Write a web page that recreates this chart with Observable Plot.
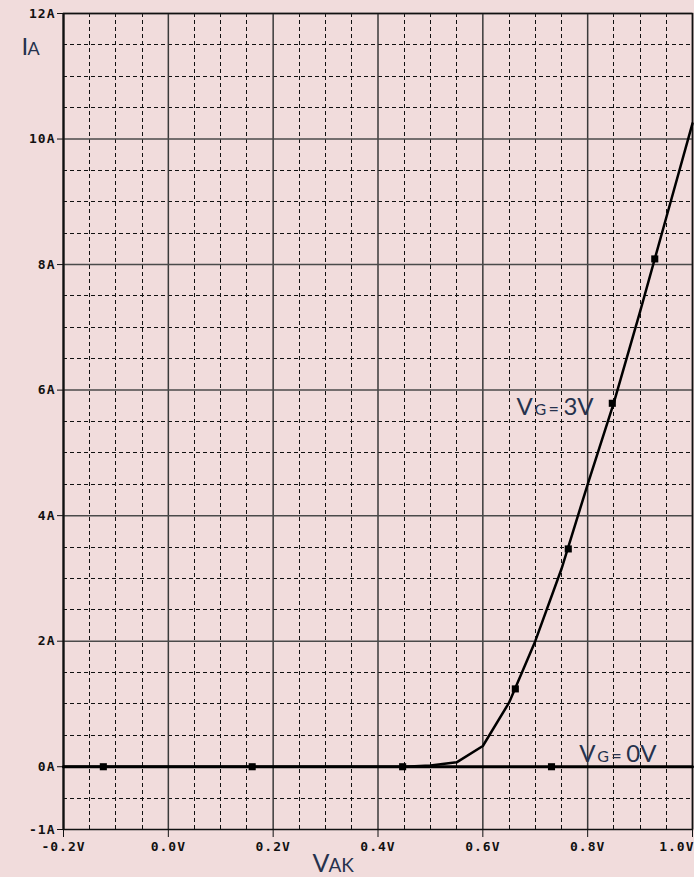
<!DOCTYPE html>
<html>
<head>
<meta charset="utf-8">
<script src="https://cdn.jsdelivr.net/npm/d3@7"></script>
<script src="https://cdn.jsdelivr.net/npm/@observablehq/plot@0.6"></script>
<style>
  html, body { margin: 0; padding: 0; background: #f1dcdc; }
  #chart svg { display: block; }
  #chart [aria-label$="tick label"] text, #chart .tick-text text { letter-spacing: 1px; }
</style>
</head>
<body>
<div id="chart"></div>
<script>
// Anode voltage sweep (V) and anode current (A) for a gate drive of 3 V
const vakGate3 = [-0.2, 0.45, 0.50, 0.55, 0.60, 0.65, 0.70, 0.75, 0.80, 0.85, 0.90, 0.95, 1.00];
const iaGate3  = [0.0,  0.0,  0.02, 0.07, 0.33, 1.02, 2.00, 3.15, 4.50, 5.80, 7.25, 8.75, 10.25];

// Gate drive of 0 V: the device stays off across the sweep
const vakGate0 = [-0.2, 1.0];
const iaGate0  = [0.0, 0.0];

// Trace markers
const markVGate3 = [0.662, 0.763, 0.847, 0.928];
const markIGate3 = [1.24, 3.47, 5.79, 8.09];
const markVGate0 = [-0.124, 0.160, 0.447, 0.731];
const markIGate0 = [0, 0, 0, 0];

// Axis ticks
const xTicks = [-0.2, 0.0, 0.2, 0.4, 0.6, 0.8, 1.0];
const xTickLabels = ["-0.2V", "0.0V", "0.2V", "0.4V", "0.6V", "0.8V", "1.0V"];
const yTicks = [12, 10, 8, 6, 4, 2, 0, -1];
const yTickLabels = ["12A", "10A", "8A", "6A", "4A", "2A", "0A", "-1A"];

// Trace labels: anchor (VAK, IA) at the start of the baseline
const traceLabels = [
  {v: 0.664, i: 5.60, value: "3V"},
  {v: 0.784, i: 0.08, value: "0V"}
];

const gate3 = vakGate3.map((v, k) => ({v, i: iaGate3[k]}));
const gate0 = vakGate0.map((v, k) => ({v, i: iaGate0[k]}));
const marks3 = markVGate3.map((v, k) => ({v, i: markIGate3[k]}));
const marks0 = markVGate0.map((v, k) => ({v, i: markIGate0[k]}));
const xLabelRows = xTicks.map((v, k) => ({v, label: xTickLabels[k]}));

// Grid: solid every 0.2 V / 2 A, dashed every 0.05 V / 0.5 A
const majorX = xTicks;
const majorY = [12, 10, 8, 6, 4, 2, 0];
const minorX = d3.range(-0.2, 1.0001, 0.05).map(d => +d.toFixed(2))
  .filter(d => !majorX.some(m => Math.abs(m - d) < 1e-6));
const minorY = d3.range(-1, 12.0001, 0.5)
  .filter(d => !yTicks.some(m => Math.abs(m - d) < 1e-6));

const mono = "'DejaVu Sans Mono', 'Liberation Mono', monospace";
const sans = "Lato, 'Noto Sans', sans-serif";
const ink = "#26324d";

// One piece of a mixed-size label, with its baseline at the anchor
function piece(data, text, size, dx, opts = {}) {
  const {dyBase = 0, ...rest} = opts;
  return Plot.text(data, {
    ...rest,
    text: () => text,
    fontSize: size,
    fontFamily: sans,
    fill: ink,
    textAnchor: "start",
    lineAnchor: "middle",
    dx,
    dy: dyBase - 0.32 * size
  });
}

const labelPos = {x: "v", y: "i"};
const tickFont = {fontFamily: mono, fontWeight: "bold", fontSize: 13, fill: "#111"};

const chart = Plot.plot({
  width: 694,
  height: 877,
  marginLeft: 63,
  marginRight: 2,
  marginTop: 13,
  marginBottom: 48,
  style: {background: "transparent", overflow: "visible", color: "#111"},
  x: {domain: [-0.2, 1.0]},
  y: {domain: [-1, 12]},
  marks: [
    Plot.ruleX(minorX, {stroke: "#111", strokeWidth: 1, strokeDasharray: "4,3", shapeRendering: "crispEdges"}),
    Plot.ruleY(minorY, {stroke: "#111", strokeWidth: 1, strokeDasharray: "4,3", shapeRendering: "crispEdges"}),
    Plot.ruleX(majorX, {stroke: "#3a3a3a", strokeWidth: 1.5}),
    Plot.ruleY(majorY, {stroke: "#4a4a4a", strokeWidth: 1.5}),
    Plot.frame({stroke: "#111", strokeWidth: 1.5}),
    Plot.ruleX([-0.2], {stroke: "#111", strokeWidth: 2}),
    Plot.axisY(yTicks, {
      tickFormat: d => yTickLabels[yTicks.indexOf(d)],
      tickSize: 6, tickPadding: 2,
      ...tickFont,
      label: null
    }),
    Plot.axisX(xTicks, {tickSize: 8, text: null, label: null}),
    // x tick labels: the last one is pulled inside the right edge
    Plot.text(xLabelRows.slice(0, -1), {
      x: "v", text: "label", frameAnchor: "bottom", lineAnchor: "middle",
      dy: 17, className: "tick-text", ...tickFont
    }),
    Plot.text(xLabelRows.slice(-1), {
      x: "v", text: "label", frameAnchor: "bottom", lineAnchor: "middle",
      textAnchor: "end", dx: 2, dy: 17, className: "tick-text", ...tickFont
    }),
    // traces
    Plot.line(gate0, {x: "v", y: "i", stroke: "#000", strokeWidth: 3}),
    Plot.line(gate3, {x: "v", y: "i", stroke: "#000", strokeWidth: 2.5, strokeLinejoin: "round"}),
    Plot.dot(marks0, {x: "v", y: "i", symbol: "square", r: 4, fill: "#000"}),
    Plot.dot(marks3, {x: "v", y: "i", symbol: "square", r: 4, fill: "#000"}),
    // trace labels: V, smaller G, =, value
    piece(traceLabels, "V", 24, 0, labelPos),
    piece(traceLabels, "G", 16, 18, labelPos),
    piece(traceLabels, "=", 18, 32, labelPos),
    Plot.text(traceLabels, {x: "v", y: "i", text: "value", fontSize: 24, fontFamily: sans, fill: ink,
      textAnchor: "start", lineAnchor: "middle", dx: 47, dy: -0.32 * 24}),
    // axis titles
    piece([0], "I", 24, -42, {frameAnchor: "top-left", dyBase: 41}),
    piece([0], "A", 18, -36, {frameAnchor: "top-left", dyBase: 41}),
    piece([0], "V", 25, 249, {frameAnchor: "bottom-left", dyBase: 42}),
    piece([0], "AK", 19, 265, {frameAnchor: "bottom-left", dyBase: 42})
  ]
});

document.getElementById("chart").appendChild(chart);
</script>
</body>
</html>
